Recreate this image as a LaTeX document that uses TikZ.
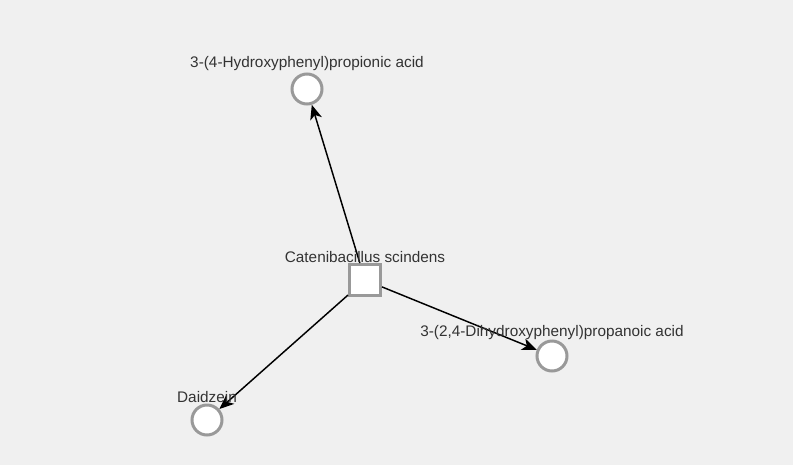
\documentclass[tikz,border=0pt]{standalone}
\usepackage{fontspec}
\setmainfont{Liberation Sans}
\usetikzlibrary{arrows.meta}
\definecolor{bgc}{HTML}{F0F0F0}
\definecolor{bordc}{HTML}{999999}
\definecolor{txtc}{HTML}{333333}
\begin{document}
\begin{tikzpicture}[x=0.75pt,y=-0.75pt,
  metab/.style={circle,draw=bordc,fill=white,line width=2.25pt,minimum size=22.5pt,inner sep=0pt},
  microbe/.style={rectangle,draw=bordc,fill=white,line width=2.25pt,minimum size=23.25pt,inner sep=0pt},
  lbl/.style={text=txtc,font=\fontsize{11.5pt}{13pt}\selectfont,inner sep=0pt},
  link/.style={draw=black,line width=1.1pt,-{Stealth[length=11pt,width=9pt,inset=3pt]}}]
\fill[bgc] (0,0) rectangle (793,465);
\useasboundingbox (0,0) rectangle (793,465);
\node[microbe] (sq) at (365,280) {};
\node[metab] (hp) at (307,89) {};
\node[metab] (dh) at (552,356) {};
\node[metab] (dz) at (207,420) {};
\draw[link] (sq) -- (hp);
\draw[link] (sq) -- (dh);
\draw[link] (sq) -- (dz);
\node[lbl] (lsq) at (365,257) {Catenibacillus scindens};
\node[lbl] (lhp) at (307,64) {3-(4-Hydroxyphenyl)propionic acid};
\node[lbl] (ldh) at (552,333) {3-(2,4-Dihydroxyphenyl)propanoic acid};
\node[lbl] (ldz) at (207,397) {Daidzein};
\end{tikzpicture}
\end{document}
